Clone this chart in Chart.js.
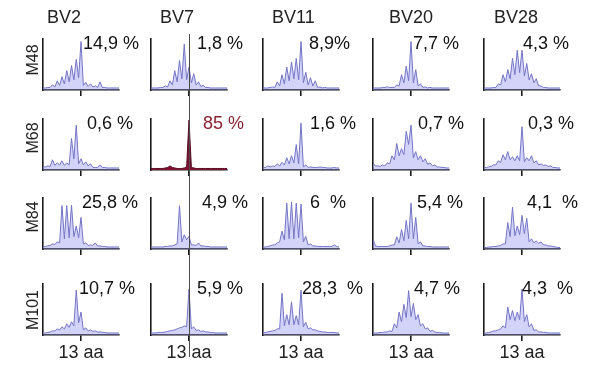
<!DOCTYPE html>
<html>
<head>
<meta charset="utf-8">
<script src="https://cdn.jsdelivr.net/npm/chart.js"></script>
<style>
  html, body { margin: 0; padding: 0; background: #fff; }
  #fig { position: relative; width: 598px; height: 367px; overflow: hidden;
         font-family: "Liberation Sans", Arial, sans-serif; color: #222; }
  #fig canvas { position: absolute; }
  .txt { position: absolute; white-space: pre; font-size: 18px; line-height: 20px; }
  .rowlab { position: absolute; font-size: 16px; line-height: 18px; white-space: nowrap;
            transform: translate(-50%, -50%) rotate(-90deg); }
</style>
</head>
<body>
<div id="fig"></div>
<script>
// column / row headers
const families = ['BV2', 'BV7', 'BV11', 'BV20', 'BV28'];
const mice = ['M48', 'M68', 'M84', 'M101'];

// CDR3 length axis (aa), one tick at 13 aa
const cdr3Len = [5, 5.5, 6, 6.5, 7, 7.5, 8, 8.5, 9, 9.5, 10, 10.5, 11, 11.5, 12, 12.5, 13,
                 13.5, 14, 14.5, 15, 15.5, 16, 16.5, 17, 17.5, 18, 18.5, 19, 19.5, 20, 20.5, 21];
const tickAa = 13;
const tickText = '13 aa';

// spectratype profiles (relative height), one list per BV family
const M48 = [
  [4,4, 5,5, 10,6, 18,9, 26,12, 38,16, 48,20, 60,24, 95,9, 15,7, 12,6, 8,5, 16,5, 5,4, 4,4, 4,4, 4],
  [4,4, 4,4, 5,5, 8,6, 18,10, 38,16, 58,22, 90,20, 45,14, 32,10, 16,7, 9,5, 5,4, 4,4, 4,4, 4,4, 4],
  [4,4, 4,5, 6,5, 16,8, 30,12, 45,18, 55,22, 62,20, 95,14, 35,10, 24,8, 18,5, 6,4, 5,4, 4,4, 4,4, 4],
  [4,4, 4,4, 5,5, 6,5, 5,5, 10,8, 30,14, 47,18, 95,14, 40,8, 12,5, 6,4, 5,4, 4,4, 4,4, 4,4, 4],
  [4,4, 4,4, 5,5, 12,10, 30,16, 40,22, 62,30, 78,34, 78,28, 52,20, 32,14, 22,8, 8,5, 5,4, 4,4, 4,4, 4]
];
const M68 = [
  [6,6, 8,7, 20,9, 14,10, 18,9, 14,10, 62,22, 88,12, 22,10, 16,8, 12,5, 5,5, 10,5, 5,4, 4,4, 4,4, 4],
  [3,3, 3,3, 3,3, 4,5, 8,5, 4,3, 3,3, 4,6, 98,5, 4,3, 3,3, 3,3, 3,3, 3,3, 3,3, 3,3, 3],
  [5,5, 8,6, 8,7, 12,8, 15,10, 24,12, 28,14, 50,12, 92,6, 10,5, 6,5, 5,5, 6,5, 5,4, 4,4, 5,4, 4],
  [14,8, 8,7, 10,8, 14,12, 28,20, 52,28, 42,30, 76,50, 88,24, 36,20, 28,16, 22,11, 14,8, 10,6, 6,5, 5,4, 4],
  [4,5, 6,7, 10,10, 18,15, 30,20, 36,20, 26,18, 28,18, 85,16, 24,18, 28,14, 18,10, 12,9, 10,7, 8,5, 5,4, 4]
];
const M84 = [
  [4,5, 6,7, 10,9, 14,12, 85,20, 85,22, 86,24, 45,22, 62,10, 12,7, 8,7, 12,6, 6,5, 5,4, 4,4, 4,4, 4],
  [4,4, 4,4, 4,4, 5,5, 6,6, 8,10, 85,14, 28,18, 25,8, 8,7, 12,6, 6,5, 5,4, 4,4, 4,4, 4,4, 4],
  [4,4, 5,6, 8,8, 12,14, 35,18, 90,20, 92,20, 90,22, 88,14, 25,8, 10,6, 6,5, 5,5, 5,5, 5,5, 8,5, 4],
  [20,6, 5,5, 5,5, 5,6, 8,8, 24,12, 38,16, 56,20, 90,20, 62,10, 14,6, 6,5, 5,4, 4,4, 4,4, 4,4, 4],
  [3,3, 4,4, 5,5, 6,7, 10,10, 52,24, 82,26, 45,28, 66,30, 60,14, 20,12, 16,11, 14,8, 8,6, 6,5, 4,3, 3]
];
const M101 = [
  [4,4, 5,6, 8,8, 12,10, 16,12, 22,15, 26,18, 88,24, 45,10, 14,8, 10,7, 8,6, 6,5, 5,4, 4,4, 4,4, 4],
  [4,4, 4,5, 5,5, 6,7, 8,9, 10,12, 14,15, 18,16, 90,12, 16,9, 10,7, 8,6, 6,5, 5,4, 4,4, 4,4, 4],
  [5,5, 6,7, 8,9, 12,12, 82,18, 40,20, 65,20, 38,20, 88,16, 25,12, 14,10, 10,8, 7,6, 6,5, 5,5, 5,4, 4],
  [4,4, 4,5, 5,6, 6,8, 7,22, 14,45, 26,60, 34,87, 36,62, 30,40, 18,22, 12,14, 7,9, 6,5, 5,4, 4,4, 4],
  [4,4, 5,6, 8,8, 10,12, 18,14, 55,30, 48,28, 45,30, 90,26, 40,16, 22,9, 10,6, 6,5, 5,4, 4,4, 4,4, 4]
];

// frequency of each family in the repertoire
const pctM48  = ['14,9 %', '1,8 %', '8,9%', '7,7 %', '4,3 %'];
const pctM68  = ['0,6 %', '85 %', '1,6 %', '0,7 %', '0,3 %'];
const pctM84  = ['25,8 %', '4,9 %', '6  %', '5,4 %', '4,1  %'];
const pctM101 = ['10,7 %', '5,9 %', '28,3  %', '4,7 %', '4,3  %'];

const profiles = [M48, M68, M84, M101];
const percents = [pctM48, pctM68, pctM84, pctM101];

// layout
const colAxisX = [43, 151, 263, 373, 484];
const rowAxisY = [90, 170, 249, 335];
const bandTop = [30, 110, 189, 275, 362];
const plotW = 76, plotH = 51, padL = 18, cvW = 110;
const titleX = [47, 160, 272, 389, 494];
const rowLabelY = [60, 138, 217, 310];
const pctDx = [[40, 46, 46, 40, 39], [44, 52, 47, 45, 44], [39, 51, 47, 44, 43], [36, 46, 39, 41, 38]];

const fig = document.getElementById('fig');
const ink = '#1a1a1a';

// thin line marking 13 aa through the BV7 column
const markerLine = {
  id: 'markerLine',
  afterDraw(chart, args, opts) {
    if (!opts.on) return;
    const {ctx, chartArea, scales} = chart;
    const x = Math.round(scales.x.getPixelForValue(tickAa)) + 0.5;
    ctx.save();
    ctx.strokeStyle = '#4a4a4a';
    ctx.lineWidth = 1;
    ctx.beginPath();
    ctx.moveTo(x, opts.first ? chartArea.top - 5 : 0);
    ctx.lineTo(x, opts.last ? chartArea.bottom + 22 : chart.height);
    ctx.stroke();
    ctx.restore();
  }
};

function addText(cls, text, left, top, color) {
  const d = document.createElement('div');
  d.className = cls;
  d.textContent = text;
  d.style.left = left + 'px';
  d.style.top = top + 'px';
  if (color) d.style.color = color;
  fig.appendChild(d);
}

for (let r = 0; r < mice.length; r++) {
  const cvH = bandTop[r + 1] - bandTop[r];
  const padT = rowAxisY[r] - plotH - bandTop[r];
  const axisH = cvH - padT - plotH;
  const last = r === mice.length - 1;

  for (let c = 0; c < families.length; c++) {
    const cv = document.createElement('canvas');
    cv.width = cvW;
    cv.height = cvH;
    cv.style.left = (colAxisX[c] - padL) + 'px';
    cv.style.top = bandTop[r] + 'px';
    fig.appendChild(cv);

    const clonal = percents[r][c] === '85 %';
    const pts = cdr3Len.map((x, i) => ({x: x, y: profiles[r][c][i]}));

    new Chart(cv, {
      type: 'line',
      data: {
        datasets: [{
          data: pts,
          borderColor: clonal ? '#560a22' : '#7474c4',
          backgroundColor: clonal ? '#7d1030' : 'rgba(150,150,240,0.42)',
          borderWidth: 1,
          fill: 'origin',
          pointRadius: 0,
          tension: 0
        }]
      },
      options: {
        responsive: false,
        animation: false,
        events: [],
        layout: {padding: {left: padL, right: cvW - padL - plotW, top: padT, bottom: 0}},
        plugins: {
          legend: {display: false},
          tooltip: {enabled: false},
          markerLine: {on: c === 1, first: r === 0, last: last}
        },
        scales: {
          x: {
            type: 'linear',
            min: 5,
            max: 21,
            afterBuildTicks: s => { s.ticks = [{value: tickAa}]; },
            afterFit: s => { s.height = axisH; },
            ticks: {
              display: last,
              callback: () => tickText,
              autoSkip: false,
              maxRotation: 0,
              padding: 1,
              color: '#222',
              font: {family: '"Liberation Sans", Arial, sans-serif', size: 18}
            },
            grid: {display: true, drawOnChartArea: false, drawTicks: true, tickLength: 6, color: ink, lineWidth: 1.6},
            border: {display: true, color: ink, width: 1.6}
          },
          y: {
            min: 0,
            max: 100,
            afterFit: s => { s.width = 0; },
            ticks: {display: false},
            grid: {display: false, drawTicks: false},
            border: {display: true, color: ink, width: 1.6}
          }
        }
      },
      plugins: [markerLine]
    });

    addText('txt', percents[r][c], colAxisX[c] + pctDx[r][c], rowAxisY[r] - 57, clonal ? '#8b2232' : '#111');
  }
  addText('rowlab', mice[r], 33, rowLabelY[r]);
}

families.forEach((f, c) => addText('txt', f, titleX[c], 7));
</script>
</body>
</html>
